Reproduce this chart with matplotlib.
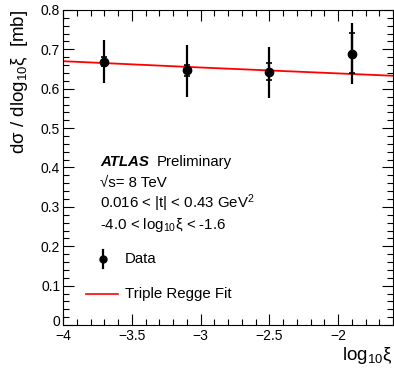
import matplotlib
matplotlib.use("Agg")
import matplotlib.pyplot as plt
from matplotlib.ticker import MultipleLocator
from matplotlib.lines import Line2D
import matplotlib.transforms as mtransforms
import numpy as np

plt.rcParams['font.family'] = ['Liberation Sans', 'DejaVu Sans']
plt.rcParams['mathtext.fontset'] = 'custom'
plt.rcParams['mathtext.rm'] = 'Liberation Sans'
plt.rcParams['mathtext.it'] = 'Liberation Sans'

# Data
log_xi = [-3.7, -3.1, -2.5, -1.9]
dsigma = [0.669, 0.648, 0.643, 0.688]
tot_lo = [0.614, 0.580, 0.576, 0.611]
tot_hi = [0.723, 0.711, 0.707, 0.766]
stat_lo = [0.659, 0.632, 0.622, 0.640]
stat_hi = [0.681, 0.660, 0.665, 0.741]

fit_x = [-4.0, -3.0, -2.0, -1.6]
fit_y = [0.670, 0.654, 0.639, 0.633]

xticks = [-4, -3.5, -3, -2.5, -2]
xtick_labels = ['\u22124', '\u22123.5', '\u22123', '\u22122.5', '\u22122']
yticks = [0, 0.1, 0.2, 0.3, 0.4, 0.5, 0.6, 0.7, 0.8]
ytick_labels = ['0', '0.1', '0.2', '0.3', '0.4', '0.5', '0.6', '0.7', '0.8']

fig = plt.figure(figsize=(3.94, 3.71), dpi=100)
ax = fig.add_axes([63/394, 1-325/371, (393-63)/394, (325-10)/371])

ax.plot(fit_x, fit_y, color='red', lw=1.3, zorder=2)

y = np.array(dsigma)
ax.errorbar(log_xi, y, yerr=[y-np.array(tot_lo), np.array(tot_hi)-y],
            fmt='none', ecolor='black', elinewidth=1.6, capsize=0, zorder=3)
ax.errorbar(log_xi, y, yerr=[y-np.array(stat_lo), np.array(stat_hi)-y],
            fmt='o', color='black', ms=6, elinewidth=1.6, capsize=2.5,
            capthick=1.2, zorder=4)

ax.set_xlim(-4, -1.6)
ax.set_ylim(0, 0.8)
ax.xaxis.set_minor_locator(MultipleLocator(0.1))
ax.yaxis.set_minor_locator(MultipleLocator(0.02))
ax.tick_params(which='both', direction='in', top=True, right=True, labelsize=10)
ax.tick_params(axis='x', pad=3)
ax.tick_params(axis='y', pad=2)
ax.tick_params(which='major', length=8, width=0.8)
ax.tick_params(which='minor', length=4, width=0.8)
ax.set_xticks(xticks)
ax.set_xticklabels(xtick_labels)
ax.set_yticks(yticks)
ax.set_yticklabels(ytick_labels)

# nudge the "0" y label up, like the reference
zero_lab = ax.get_yticklabels()[0]
zero_lab.set_transform(zero_lab.get_transform() +
                       mtransforms.ScaledTranslation(0, 4/100, fig.dpi_scale_trans))

fig.text(20/394, 1-10/371, 'd\u03c3 / dlog$_{10}$\u03be  [mb]', rotation=90,
         ha='center', va='top', fontsize=13.5)
fig.text(392/394, 1-356/371, 'log$_{10}$\u03be', ha='right', va='center', fontsize=13.5)

def px(xp, yp):
    return xp/394, 1-yp/371

tx = 100
fs = 10.8
fig.text(*px(tx, 162), 'ATLAS', fontsize=fs, fontweight='bold', style='italic', va='center')
fig.text(*px(157, 162), 'Preliminary', fontsize=fs, va='center')
fig.text(*px(tx, 183), '\u221as= 8 TeV', fontsize=fs, va='center')
fig.text(*px(tx, 203), '0.016 < |t| < 0.43 GeV$^{2}$', fontsize=fs, va='center')
fig.text(*px(tx, 225), '-4.0 < log$_{10}$\u03be < -1.6', fontsize=fs, va='center')

# legend
lx, ly = px(103, 259)
fig.add_artist(Line2D([lx, lx], [ly-9/371, ly+9/371], color='black', lw=1.6))
fig.add_artist(Line2D([lx], [ly], marker='o', color='black', ms=5))
fig.text(*px(125, 259), 'Data', fontsize=fs, va='center')
x1, yy = px(86, 294)
x2, _ = px(118, 294)
fig.add_artist(Line2D([x1, x2], [yy, yy], color='red', lw=1.2))
fig.text(*px(125, 294), 'Triple Regge Fit', fontsize=fs, va='center')

fig.savefig('out.png', dpi=100)
